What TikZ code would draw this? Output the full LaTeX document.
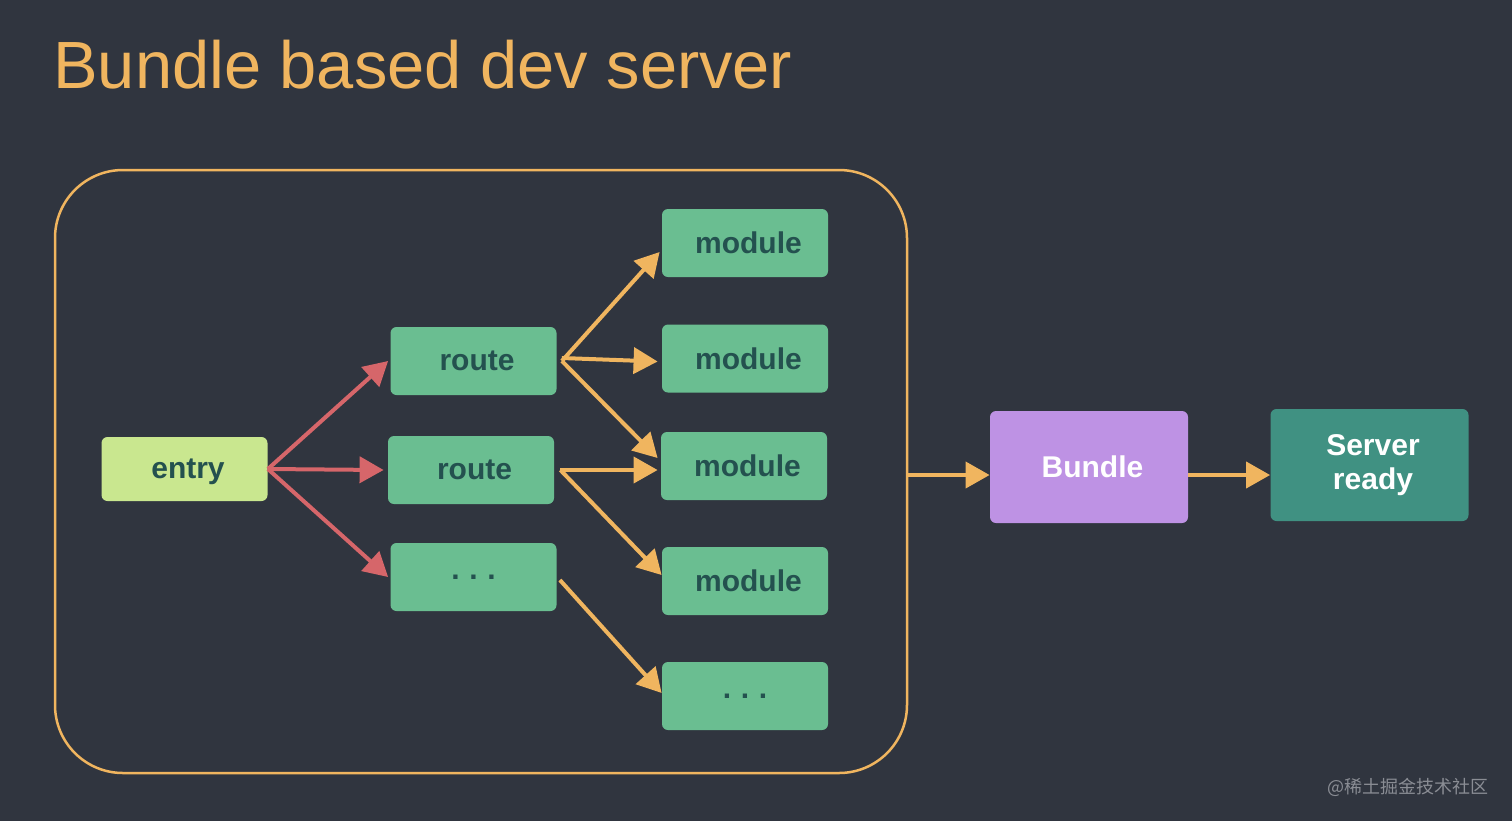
\documentclass[tikz,border=0pt]{standalone}
\usepackage{fontspec}
\setmainfont{Liberation Sans}
\newfontfamily\cjkfont{Noto Sans CJK SC}
\usetikzlibrary{arrows.meta}
\definecolor{bgc}{HTML}{30353F}
\definecolor{orangec}{HTML}{F0B55F}
\definecolor{redc}{HTML}{D6666A}
\definecolor{greenc}{HTML}{6ABE91}
\definecolor{entryc}{HTML}{C9E78F}
\definecolor{bundlec}{HTML}{BE92E4}
\definecolor{serverc}{HTML}{409182}
\definecolor{boxtext}{HTML}{24514F}
\definecolor{markc}{HTML}{8A8D94}
\newcommand{\rs}{\hspace*{3.5pt}}
\begin{document}
\begin{tikzpicture}[x=0.5pt,y=-0.5pt,
  box/.style={rounded corners=3pt, inner sep=0pt, minimum width=83pt, minimum height=34pt,
    font=\fontsize{15}{17}\selectfont\bfseries, text=boxtext, align=center},
  gbox/.style={box, fill=greenc},
  ebox/.style={box, fill=entryc, minimum height=32pt, text height=9pt, text depth=0pt},
  bigbox/.style={box, minimum width=99pt, minimum height=56pt, text=white},
  redarr/.style={draw=redc, line width=2pt, -{Triangle[length=12pt,width=13pt]}},
  orarr/.style={draw=orangec, line width=2pt, -{Triangle[length=12pt,width=13pt]}},
  frame/.style={draw=orangec, line width=1.25pt, rounded corners=34pt, inner sep=0pt,
    minimum width=426pt, minimum height=301.5pt}
]
\path[fill=bgc] (0,0) rectangle (1512,821);

% title
\node[anchor=base west, inner sep=0pt, text=orangec, font=\fontsize{33.4}{40}\selectfont] (title) at (53,88) {Bundle based dev server};

% outer frame
\node[frame] (frame) at (481,471.5) {};

% nodes
\node[ebox] (entry) at (184.5,469) {\rs entry};
\node[gbox] (route1) at (473.5,361) {\rs route};
\node[gbox] (route2) at (471,470) {\rs route};
\node[gbox] (routeD) at (473.5,577) {.\hspace{4.8pt}.\hspace{4.8pt}.};
\node[gbox] (m1) at (745,243) {\rs module};
\node[gbox] (m2) at (745,358.5) {\rs module};
\node[gbox] (m3) at (744,466) {\rs module};
\node[gbox] (m4) at (745,581) {\rs module};
\node[gbox] (mD) at (745,696) {.\hspace{4.8pt}.\hspace{4.8pt}.};
\node[bigbox, fill=bundlec] (bundle) at (1089,467) {\rs Bundle};
\node[bigbox, fill=serverc] (server) at (1369.5,465) {\rs Server\\\rs ready};

% red arrows
\draw[redarr] (entry.east) -- ([xshift=-1pt]route1.west);
\draw[redarr] (entry.east) -- ([xshift=-2pt]route2.west);
\draw[redarr] (entry.east) -- ([xshift=-1pt]routeD.west);

% orange arrows
\draw[orarr] ([xshift=2.5pt]route1.east) -- ([xshift=-1pt,yshift=-4.5pt]m1.west);
\draw[orarr] ([xshift=2.5pt,yshift=1.5pt]route1.east) -- ([xshift=-2pt,yshift=-1.5pt]m2.west);
\draw[orarr] ([xshift=2.5pt]route1.east) -- ([xshift=-1.5pt,yshift=4pt]m3.west);
\draw[orarr] ([xshift=3pt]route2.east) -- ([xshift=-1.5pt,yshift=-2pt]m3.west);
\draw[orarr] ([xshift=3pt]route2.east) -- ([yshift=3pt]m4.west);
\draw[orarr] ([xshift=1.5pt,yshift=-1.5pt]routeD.east) -- ([yshift=1.5pt]mD.west);

% to bundle and server
\coordinate (ay) at (0,475);
\draw[orarr] (frame.east |- ay) -- (bundle.west |- ay);
\draw[orarr] (bundle.east |- ay) -- (server.west |- ay);

% watermark
\node[anchor=west, inner sep=0pt, text=markc, font=\cjkfont\fontsize{9}{11}\selectfont] (mark) at (1327,787) {@稀土掘金技术社区};
\end{tikzpicture}
\end{document}
